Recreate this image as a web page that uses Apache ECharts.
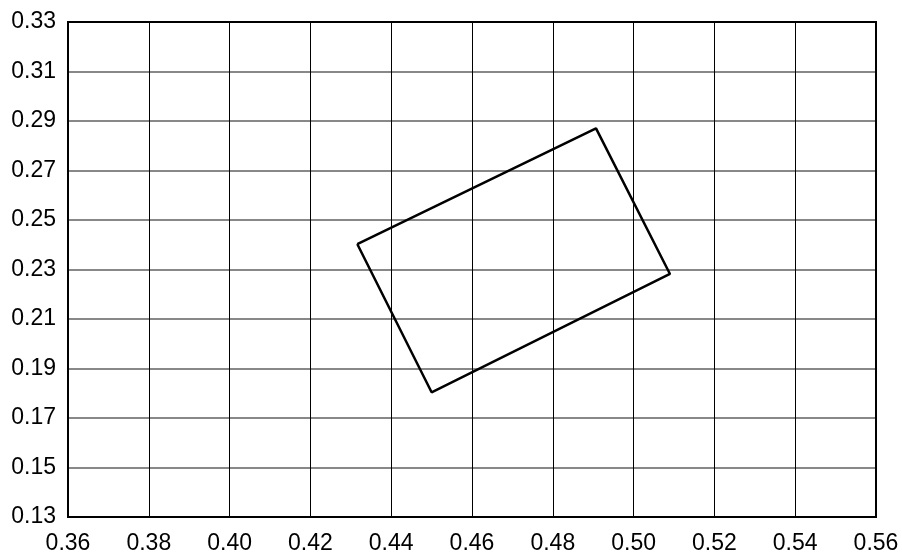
<!DOCTYPE html>
<html>
<head>
<meta charset="utf-8">
<script src="https://cdn.jsdelivr.net/npm/echarts@6/dist/echarts.min.js"></script>
<style>html,body{margin:0;padding:0;background:#fff}#c{width:902px;height:555px}</style>
</head>
<body>
<div id="c"></div>
<script>
const xMin = 0.36, xMax = 0.56, xStep = 0.02;
const yMin = 0.13, yMax = 0.33, yStep = 0.02;
const polyX = [0.4316, 0.4907, 0.5090, 0.4500, 0.4316];
const polyY = [0.2403, 0.2870, 0.2282, 0.1804, 0.2403];

const chart = echarts.init(document.getElementById('c'));
const font = 'Liberation Sans, Arial, sans-serif';
chart.setOption({
  animation: false,
  backgroundColor: '#fff',
  grid: { left: 68, right: 26, top: 22, bottom: 38, show: true, borderColor: '#000', borderWidth: 2, backgroundColor: 'transparent', z: 5 },
  xAxis: {
    type: 'value', min: xMin, max: xMax, interval: xStep,
    axisLine: { show: false }, axisTick: { show: false },
    axisLabel: { color: '#000', fontSize: 23, fontFamily: font, margin: 15, formatter: v => v.toFixed(2), showMinLabel: true, showMaxLabel: true },
    splitLine: { show: true, showMinLine: false, showMaxLine: false, lineStyle: { color: '#000', width: 1 } }
  },
  yAxis: {
    type: 'value', min: yMin, max: yMax, interval: yStep,
    axisLine: { show: false }, axisTick: { show: false },
    axisLabel: { color: '#000', fontSize: 23, fontFamily: font, margin: 12, formatter: v => v.toFixed(2), showMinLabel: true, showMaxLabel: true },
    splitLine: { show: true, showMinLine: false, showMaxLine: false, lineStyle: { color: '#888', width: 2 } }
  },
  series: [{
    type: 'line',
    data: polyX.map((x, i) => [x, polyY[i]]),
    showSymbol: false,
    lineStyle: { color: '#000', width: 2.5 },
    z: 10
  }]
});
</script>
</body>
</html>
